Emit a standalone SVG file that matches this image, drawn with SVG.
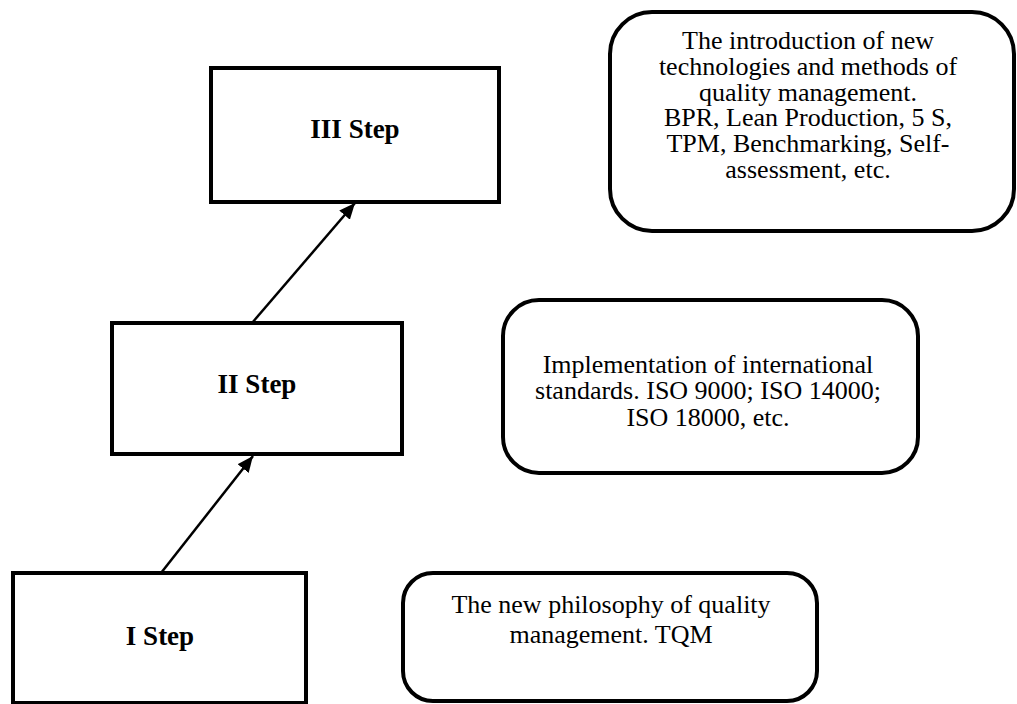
<svg xmlns="http://www.w3.org/2000/svg" width="1017" height="704" viewBox="0 0 1017 704">
<defs>
<style>
.box{fill:#fff;stroke:#000;stroke-width:4}
.lbl{font-family:"Liberation Serif","Times New Roman",serif;font-weight:bold;font-size:27px;text-anchor:middle;fill:#000}
.txt{font-family:"Liberation Serif","Times New Roman",serif;font-size:26px;text-anchor:middle;fill:#000}
.conn{stroke:#000;stroke-width:2.5;fill:none}
</style>
<marker id="arr" markerUnits="userSpaceOnUse" markerWidth="18" markerHeight="14" refX="16" refY="7" orient="auto">
<path d="M0,0 L16,7 L0,14 Z" fill="#000"/>
</marker>
</defs>
<rect width="1017" height="704" fill="#fff"/>
<g id="connectors">
<line class="conn" x1="161" y1="573" x2="253" y2="456" marker-end="url(#arr)"/>
<line class="conn" x1="252" y1="323" x2="355" y2="203" marker-end="url(#arr)"/>
</g>
<g id="step3">
<rect class="box" x="211" y="68" width="288" height="134"/>
<text class="lbl" x="355" y="138">III Step</text>
</g>
<g id="step2">
<rect class="box" x="112" y="323" width="290" height="131"/>
<text class="lbl" x="257" y="393">II Step</text>
</g>
<g id="step1">
<rect class="box" x="13" y="573" width="293" height="130"/>
<text class="lbl" x="160" y="645">I Step</text>
</g>
<g id="desc3">
<rect class="box" x="610" y="12" width="404" height="219" rx="42" ry="42"/>
<text class="txt" x="808" y="49">The introduction of new</text>
<text class="txt" x="808" y="75">technologies and methods of</text>
<text class="txt" x="808" y="101">quality management.</text>
<text class="txt" x="808" y="126">BPR, Lean Production, 5 S,</text>
<text class="txt" x="808" y="152">TPM, Benchmarking, Self-</text>
<text class="txt" x="808" y="178">assessment, etc.</text>
</g>
<g id="desc2">
<rect class="box" x="503" y="300" width="415" height="173" rx="36" ry="36"/>
<text class="txt" x="708" y="373">Implementation of international</text>
<text class="txt" x="708" y="399">standards. ISO 9000; ISO 14000;</text>
<text class="txt" x="708" y="426">ISO 18000, etc.</text>
</g>
<g id="desc1">
<rect class="box" x="403" y="573" width="414" height="128" rx="30" ry="30"/>
<text class="txt" x="611" y="613">The new philosophy of quality</text>
<text class="txt" x="611" y="643">management. TQM</text>
</g>
</svg>
